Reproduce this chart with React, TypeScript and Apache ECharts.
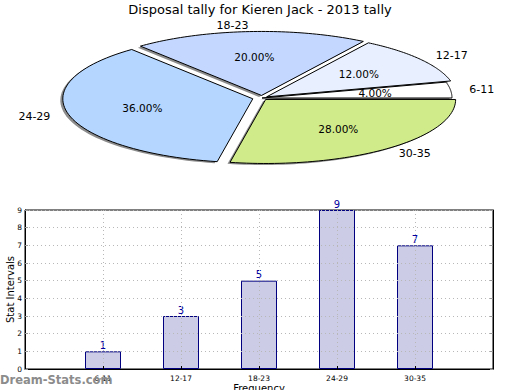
import React, { useEffect, useRef } from "react";
import * as echarts from "echarts";

const categories = ["6-11", "12-17", "18-23", "24-29", "30-35"];
const counts = [1, 3, 5, 9, 7];
const explode = [0, 0.03, 0.04, 0.05, 0.03];
const pieColors = ["#ffffff", "#e8f0ff", "#c4d8ff", "#b4d6ff", "#d0eb8a"];
const titleText = "Disposal tally for Kieren Jack - 2013 tally";
const yTicks = [0, 1, 2, 3, 4, 5, 6, 7, 8, 9];

const FONT = "DejaVu Sans";
const CX = 262;
const CY = 98;
const RX = 190;
const RY = 64;

export default function App() {
  const ref = useRef<HTMLDivElement>(null);
  useEffect(() => {
    if (!ref.current) return;
    const chart = echarts.init(ref.current, null, { renderer: "svg" });
    const total = counts.reduce((a, b) => a + b, 0);

    const renderItem = (params: any, api: any) => {
      const i = params.dataIndex;
      const v = api.value(0);
      const before = counts.slice(0, i).reduce((a, b) => a + b, 0);
      const a0 = (before / total) * Math.PI * 2;
      const a1 = ((before + v) / total) * Math.PI * 2;
      const mid = (a0 + a1) / 2;
      const e = explode[i];
      const ox = CX + e * RX * Math.cos(mid);
      const oy = CY - e * RY * Math.sin(mid);
      const pts: number[][] = [[ox, oy]];
      const N = 60;
      for (let k = 0; k <= N; k++) {
        const a = a0 + ((a1 - a0) * k) / N;
        pts.push([ox + RX * Math.cos(a), oy - RY * Math.sin(a)]);
      }
      const shadowPts = pts.map((p) => [p[0] - 2.5, p[1] + 1.5]);
      const lx = ox + 1.1 * RX * Math.cos(mid);
      const ly = oy - 1.1 * RY * Math.sin(mid);
      const px = ox + 0.6 * RX * Math.cos(mid);
      const py = oy - 0.6 * RY * Math.sin(mid);
      return {
        type: "group",
        children: [
          {
            type: "polygon",
            z2: 0,
            shape: { points: shadowPts },
            style: { fill: "rgba(0,0,0,0.45)" },
            silent: true,
          },
          {
            type: "polygon",
            z2: 1,
            shape: { points: pts },
            style: { fill: pieColors[i], stroke: "#000", lineWidth: 1 },
          },
          {
            type: "text",
            z2: 10,
            x: lx,
            y: ly,
            style: {
              text: categories[i],
              align: Math.cos(mid) > 0 ? "left" : "right",
              verticalAlign: "middle",
              fontSize: 11,
              fontFamily: FONT,
              fill: "#000",
            },
          },
          {
            type: "text",
            z2: 10,
            x: px,
            y: py,
            style: {
              text: ((v / total) * 100).toFixed(2) + "%",
              align: "center",
              verticalAlign: "middle",
              fontSize: 10.5,
              fontFamily: FONT,
              fill: "#000",
            },
          },
        ],
      };
    };

    chart.setOption({
      animation: false,
      backgroundColor: "#fff",
      textStyle: { fontFamily: FONT },
      title: {
        text: titleText,
        left: "center",
        top: 3,
        padding: 0,
        textStyle: { fontSize: 13, fontWeight: "normal", color: "#000", fontFamily: FONT },
      },
      grid: {
        left: 25,
        top: 210,
        width: 468,
        height: 159,
        outerBoundsMode: "none",
        containLabel: false,
        show: true,
        borderColor: "#000",
        borderWidth: 1,
        backgroundColor: "transparent",
      },
      xAxis: {
        type: "value",
        min: 0,
        max: categories.length + 1,
        interval: 1,
        z: 5,
        name: "Frequency",
        nameLocation: "middle",
        nameGap: 14,
        nameMoveOverlap: false,
        nameTextStyle: { fontSize: 10, color: "#000", fontFamily: FONT },
        axisLine: { show: true, lineStyle: { color: "#000", width: 1 } },
        axisTick: { show: true, inside: true, length: 3, lineStyle: { color: "#000" } },
        axisLabel: {
          fontSize: 7.5,
          color: "#000",
          margin: 5,
          fontFamily: FONT,
          formatter: (v: number) => categories[v - 1] ?? "",
        },
        splitLine: { show: true, lineStyle: { type: [1, 3], color: "#b8b8b8", width: 1 } },
      },
      yAxis: [
        {
          type: "value",
          min: 0,
          max: yTicks[yTicks.length - 1],
          interval: 1,
          z: 5,
          name: "Stat Intervals",
          nameLocation: "middle",
          nameRotate: 90,
          nameGap: 10,
          nameMoveOverlap: false,
          nameTextStyle: { fontSize: 10, color: "#000", fontFamily: FONT },
          axisLine: { show: true, lineStyle: { color: "#000", width: 1 } },
          axisTick: { show: true, inside: true, length: 3, lineStyle: { color: "#999" } },
          axisLabel: { fontSize: 7.5, color: "#000", margin: 3, fontFamily: FONT },
          splitLine: { show: true, lineStyle: { type: [1, 3], color: "#b8b8b8", width: 1 } },
        },
        {
          type: "value",
          position: "right",
          min: 0,
          max: yTicks[yTicks.length - 1],
          interval: 1,
          z: 5,
          axisLine: { show: true, lineStyle: { color: "#000", width: 1 } },
          axisTick: { show: true, inside: true, length: 3, lineStyle: { color: "#999" } },
          axisLabel: { show: false },
          splitLine: { show: false },
        },
      ],
      series: [
        {
          type: "custom",
          coordinateSystem: "none",
          renderItem,
          data: counts,
          z: 3,
        },
        {
          type: "bar",
          xAxisIndex: 0,
          yAxisIndex: 0,
          barWidth: 36,
          z: 2,
          data: categories.map((c, i) => [i + 1, counts[i]]),
          itemStyle: { color: "#ccccE6", borderColor: "#000080", borderWidth: 1 },
          label: {
            show: true,
            position: "top",
            distance: 1,
            color: "#0000a0",
            fontSize: 10,
            fontFamily: FONT,
            formatter: (p: any) => String(p.value[1]),
          },
        },
      ],
      graphic: [
        {
          type: "text",
          left: 0,
          top: 374,
          z: 100,
          style: {
            text: "Dream-Stats.com",
            fontSize: 11.5,
            fontWeight: "bold",
            fontFamily: FONT,
            fill: "#8c8c8c",
          },
        },
      ],
    });
    return () => chart.dispose();
  }, []);
  return (
    <div
      ref={ref}
      style={{ position: "fixed", left: 0, top: 0, width: 520, height: 390 }}
    />
  );
}
